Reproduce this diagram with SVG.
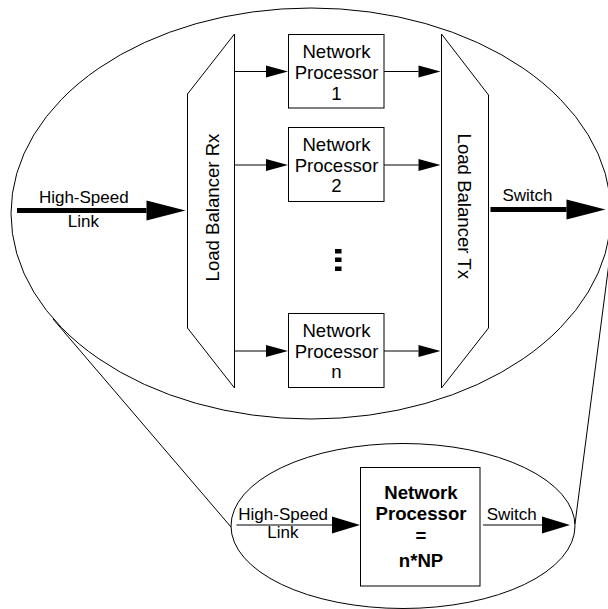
<svg xmlns="http://www.w3.org/2000/svg" width="608" height="609" viewBox="0 0 608 609">
<defs>
<style>
.ln{fill:none;stroke:#000;stroke-width:1}
.shape{fill:#fff;stroke:#000;stroke-width:1}
.t{font-family:"Liberation Sans",Arial,Helvetica,sans-serif;fill:#000;text-anchor:middle}
.lbl{font-size:17px}
.np{font-size:18.6px}
.npb{font-size:18.6px;font-weight:bold}
.rot{font-size:18.6px}
</style>
<marker id="ahThin" markerUnits="userSpaceOnUse" markerWidth="22" markerHeight="12" refX="0" refY="6" orient="auto" overflow="visible">
<path d="M0,0 L22,6 L0,12 z" fill="#000"/>
</marker>
<marker id="ahBig" markerUnits="userSpaceOnUse" markerWidth="39" markerHeight="20" refX="0" refY="10" orient="auto" overflow="visible">
<path d="M0,0 L39,10 L0,20 z" fill="#000"/>
</marker>
<marker id="ahMed" markerUnits="userSpaceOnUse" markerWidth="28" markerHeight="17" refX="0" refY="8.5" orient="auto" overflow="visible">
<path d="M0,0 L28,8.5 L0,17 z" fill="#000"/>
</marker>
</defs>
<rect x="0" y="0" width="608" height="609" fill="#fff"/>

<g id="zoom-outline">
<ellipse class="ln" cx="311" cy="213.5" rx="300" ry="205.5"/>
<ellipse class="ln" cx="403" cy="526" rx="172" ry="82.5"/>
<line class="ln" x1="53" y1="319" x2="231" y2="527"/>
<line class="ln" x1="612" y1="240" x2="575" y2="524"/>
</g>

<g id="lb-rx">
<polygon class="shape" points="234.5,34 234.5,388 187.5,328 187.5,94"/>
<text class="t rot" transform="translate(219.3,207.5) rotate(-90)">Load Balancer Rx</text>
</g>

<g id="lb-tx">
<polygon class="shape" points="441.5,34 488.5,95 488.5,328 441.5,388"/>
<text class="t rot" transform="translate(458.3,206.3) rotate(90)">Load Balancer Tx</text>
</g>

<g id="np1">
<rect class="shape" x="288.5" y="34.5" width="95.5" height="73.5"/>
<text class="t np" x="336.5" y="58.3">Network</text>
<text class="t np" x="336.5" y="79.3">Processor</text>
<text class="t np" x="336.5" y="100">1</text>
</g>

<g id="np2">
<rect class="shape" x="288.5" y="127.5" width="95.5" height="74"/>
<text class="t np" x="336.5" y="150.7">Network</text>
<text class="t np" x="336.5" y="171.7">Processor</text>
<text class="t np" x="336.5" y="191.7">2</text>
</g>

<g id="ellipsis">
<rect x="335" y="249" width="6.5" height="4.5" fill="#000"/>
<rect x="335" y="257.5" width="6.5" height="4.5" fill="#000"/>
<rect x="335" y="266.5" width="6.5" height="4.5" fill="#000"/>
</g>

<g id="npn">
<rect class="shape" x="288.5" y="313.5" width="95.5" height="74"/>
<text class="t np" x="336.5" y="336.7">Network</text>
<text class="t np" x="336.5" y="358.3">Processor</text>
<text class="t np" x="336.5" y="378.3">n</text>
</g>

<g id="np-total">
<rect class="shape" x="360.5" y="467.5" width="119.5" height="118.5"/>
<text class="t npb" x="421" y="499.3">Network</text>
<text class="t npb" x="421" y="520">Processor</text>
<text class="t npb" x="421" y="542">=</text>
<text class="t npb" x="421" y="566.7">n*NP</text>
</g>

<g id="connectors">
<line x1="17" y1="210.5" x2="146.5" y2="210.5" stroke="#000" stroke-width="5" marker-end="url(#ahBig)"/>
<line x1="490.5" y1="209.5" x2="566.5" y2="209.5" stroke="#000" stroke-width="5" marker-end="url(#ahBig)"/>
<line class="ln" x1="234.5" y1="71.5" x2="266" y2="71.5" marker-end="url(#ahThin)"/>
<line class="ln" x1="384" y1="71.5" x2="418.5" y2="71.5" marker-end="url(#ahThin)"/>
<line class="ln" x1="234.5" y1="165" x2="266" y2="165" marker-end="url(#ahThin)"/>
<line class="ln" x1="384" y1="165" x2="418.5" y2="165" marker-end="url(#ahThin)"/>
<line class="ln" x1="234.5" y1="351" x2="266" y2="351" marker-end="url(#ahThin)"/>
<line class="ln" x1="384" y1="351" x2="418.5" y2="351" marker-end="url(#ahThin)"/>
<line class="ln" x1="236.5" y1="525" x2="332" y2="525" marker-end="url(#ahMed)"/>
<line class="ln" x1="483" y1="525" x2="542" y2="525" marker-end="url(#ahMed)"/>
</g>

<g id="labels">
<text class="t lbl" x="83.8" y="202.7">High-Speed</text>
<text class="t lbl" x="83.3" y="226.7">Link</text>
<text class="t lbl" x="527.5" y="201">Switch</text>
<text class="t lbl" x="283.2" y="520">High-Speed</text>
<text class="t lbl" x="282.8" y="538.3">Link</text>
<text class="t lbl" x="511.7" y="520">Switch</text>
</g>
</svg>
